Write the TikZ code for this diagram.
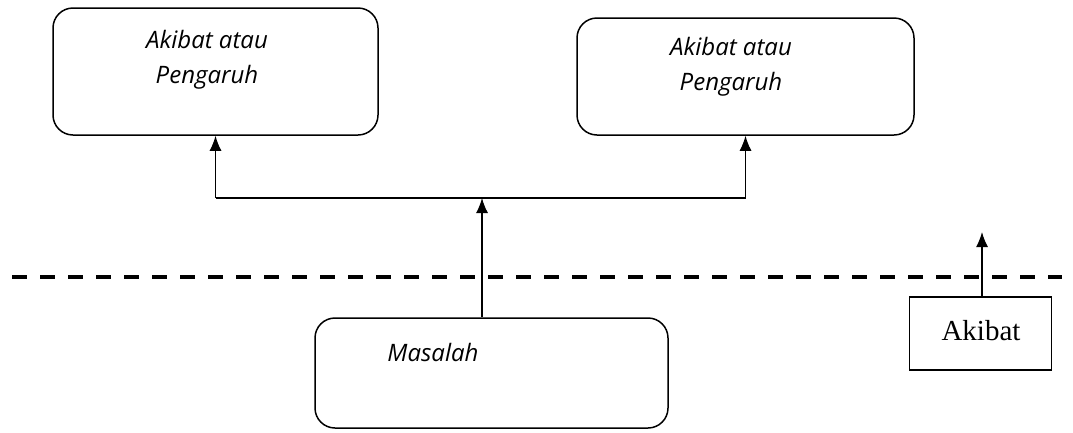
\documentclass[tikz,border=0pt]{standalone}
\usepackage{fontspec}
\setmainfont{Liberation Serif}
\newfontfamily\boxfont{Open Sans}
\usepackage{tikz}
\usetikzlibrary{
    arrows.meta,
    calc,
    positioning
}
\tikzset{>={Latex[length=15pt,width=12pt]}}
\tikzset{rbox/.style={draw=black, line width=1.5pt, rounded corners=20pt, inner sep=0pt}}
\tikzset{sbox/.style={draw=black, line width=1.3pt, inner sep=0pt}}
\tikzset{itext/.style={font=\boxfont\itshape\fontsize{24}{35}\selectfont, align=center, inner sep=0pt}}
\tikzset{stext/.style={font=\fontsize{29}{32}\selectfont, inner sep=0pt}}

\begin{document}
\begin{tikzpicture}[x=1pt, y=-1pt, line width=1.3pt]
    \useasboundingbox (0, 0) rectangle (1073, 432);

    % kotak atas
    \node[rbox, minimum width=325pt, minimum height=127pt] (akibatL) at (215.5, 71.5) {};
    \node[rbox, minimum width=337pt, minimum height=117pt] (akibatR) at (745.5, 76.5) {};
    \node[itext] (txtL) at (207, 60) {Akibat atau\\Pengaruh};
    \node[itext] (txtR) at (731, 67) {Akibat atau\\Pengaruh};

    % kotak bawah
    \node[rbox, minimum width=353pt, minimum height=110pt] (masalah) at (491.5, 373) {};
    \node[itext] (txtM) at (433, 352) {Masalah};

    \node[sbox, minimum width=142pt, minimum height=73pt] (akibat) at (980.5, 333.5) {};
    \node[stext] (txtA) at (981, 331) {Akibat};

    % garis putus-putus
    \coordinate (dashL) at (12, 277);
    \coordinate (dashR) at (1062, 277);
    \draw[line width=3.5pt, dash pattern=on 15pt off 13pt] (dashL) -- (dashR);

    % panah
    \coordinate (split) at (482, 198);
    \coordinate (tipA) at (982, 232);
    \draw[->] (split |- masalah.north) -- (split);
    \draw (split -| akibatL.south) -- (split -| akibatR.south);
    \draw
    (split -| akibatL.south) edge[->] (akibatL.south)
    (split -| akibatR.south) edge[->] (akibatR.south);
    \draw[->] (akibat.north -| tipA) -- (tipA);
\end{tikzpicture}
\end{document}
